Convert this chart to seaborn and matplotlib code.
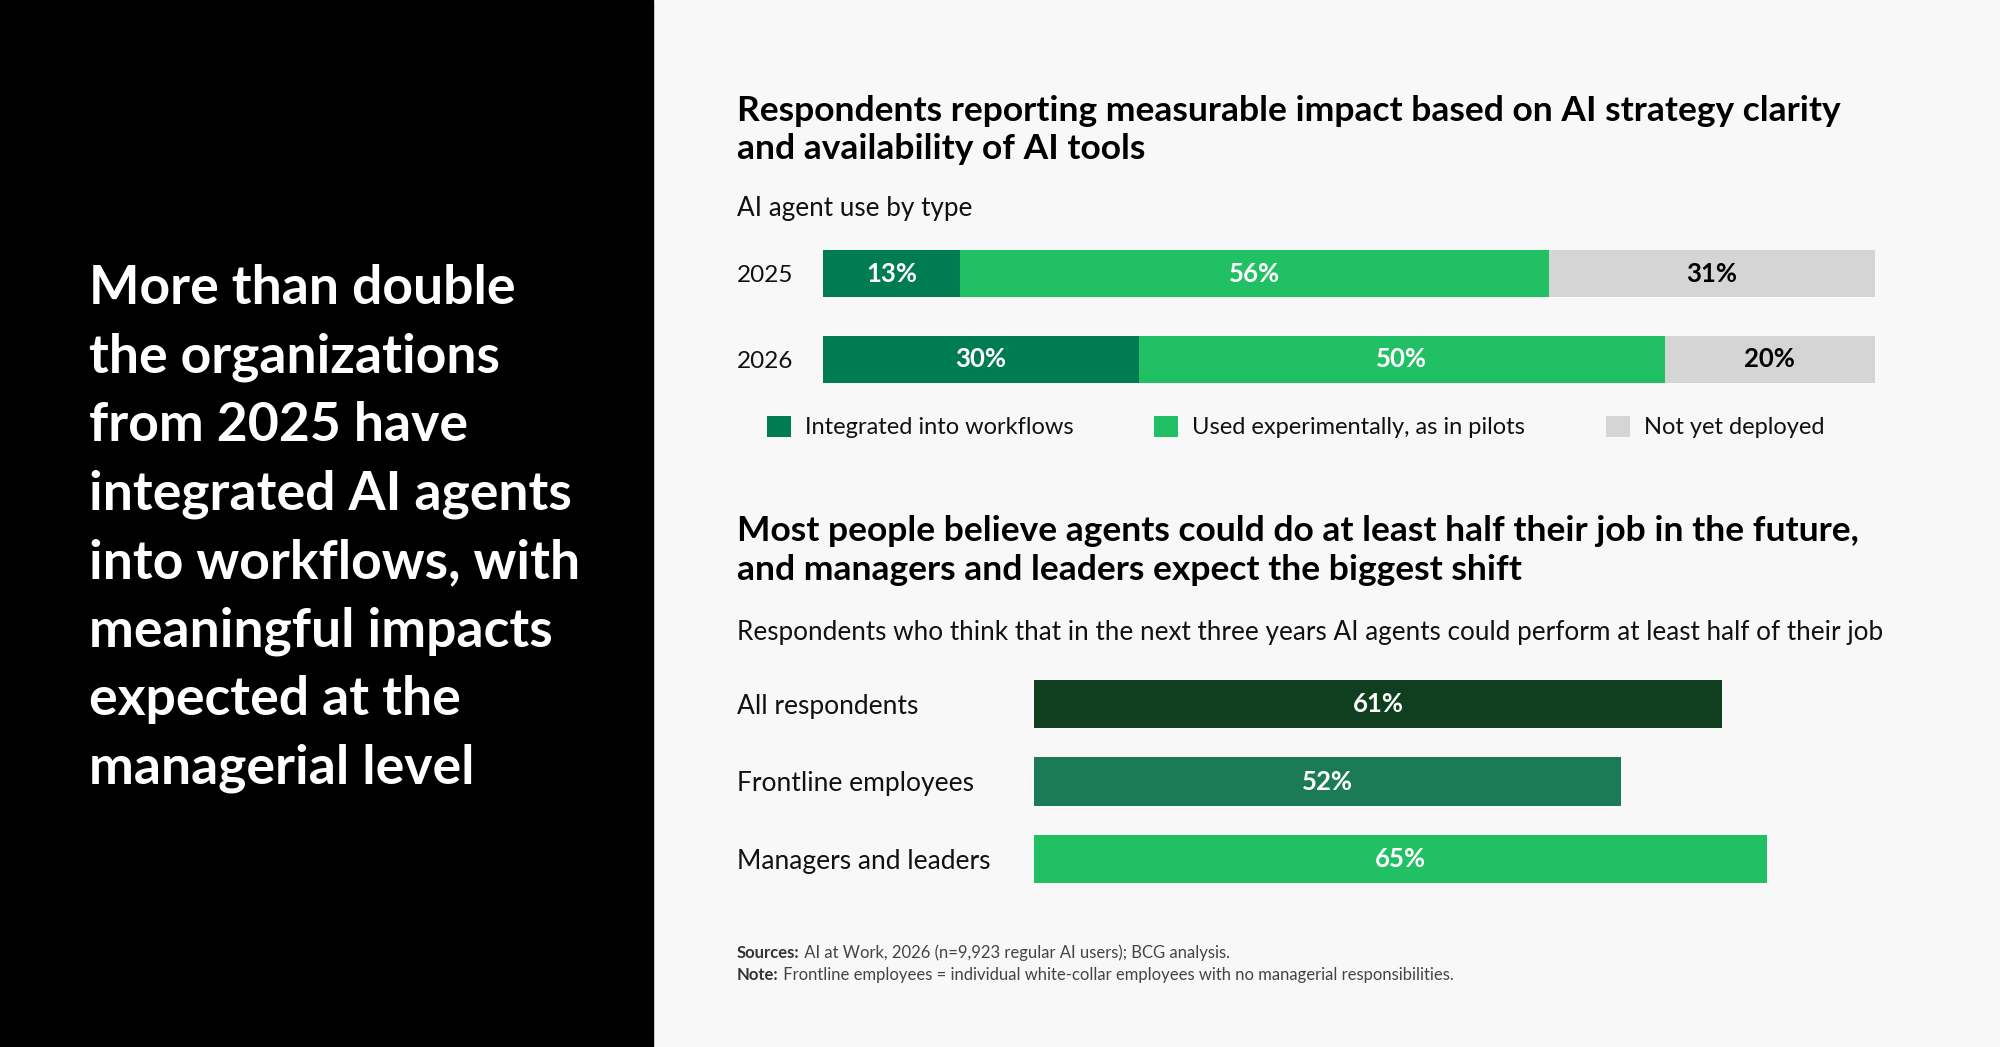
import matplotlib
matplotlib.use('Agg')
import matplotlib.pyplot as plt
from matplotlib.patches import Patch, Rectangle
import pandas as pd
import seaborn as sns

# data
years = ['2025', '2026']
integrated = [13, 30]
experimental = [56, 50]
not_deployed = [31, 20]
use_types = ['Integrated into workflows', 'Used experimentally, as in pilots',
             'Not yet deployed']

groups = ['All respondents', 'Frontline employees', 'Managers and leaders']
shares = [61, 52, 65]

headline = ['More than double', 'the organizations', 'from 2025 have',
            'integrated AI agents', 'into workflows, with',
            'meaningful impacts', 'expected at the', 'managerial level']

DARK = '#007c52'
LIGHT = '#22c064'
GRAY = '#d5d5d5'
group_colors = ['#0f3f1e', '#1b7b57', '#22c064']
BG = '#f8f8f8'

sns.set_theme(style='white')
plt.rcParams['font.family'] = ['Lato', 'DejaVu Sans']

W, H = 2000, 1047
fig = plt.figure(figsize=(20, 10.47), dpi=100, facecolor=BG)


def fx(px):
    return px / W


def fy(px):
    return 1 - px / H


# black panel + headline
fig.add_artist(Rectangle((0, 0), fx(653), 1, transform=fig.transFigure,
                         color='black', zorder=0))
for i, line in enumerate(headline):
    fig.text(fx(89), fy(304 + i * 68.5), line, color='white', fontsize=38.5,
             fontweight='bold', va='baseline', ha='left')

# titles
TITLE = 25.5
SUB = 18.8
fig.text(fx(737), fy(121), 'Respondents reporting measurable impact based on AI strategy clarity',
         fontsize=TITLE, fontweight='bold', va='baseline', color='black')
fig.text(fx(737), fy(159), 'and availability of AI tools',
         fontsize=TITLE, fontweight='bold', va='baseline', color='black')
fig.text(fx(737), fy(216), 'AI agent use by type', fontsize=SUB,
         va='baseline', color='#111111')

fig.text(fx(737), fy(541), 'Most people believe agents could do at least half their job in the future,',
         fontsize=TITLE, fontweight='bold', va='baseline', color='black')
fig.text(fx(737), fy(580), 'and managers and leaders expect the biggest shift',
         fontsize=TITLE, fontweight='bold', va='baseline', color='black')
fig.text(fx(737), fy(640),
         'Respondents who think that in the next three years AI agents could perform at least half of their job',
         fontsize=SUB, va='baseline', color='#111111')

# stacked bars (drawn as cumulative overlays)
df = pd.DataFrame({'year': years, 'integrated': integrated,
                   'experimental': experimental, 'not_deployed': not_deployed})
df['c1'] = df['integrated']
df['c2'] = df['c1'] + df['experimental']
df['c3'] = df['c2'] + df['not_deployed']

ax1 = fig.add_axes([fx(823), fy(383), fx(1875) - fx(823), fy(250) - fy(383)])
ax1.set_facecolor(BG)
for col, c in [('c3', GRAY), ('c2', LIGHT), ('c1', DARK)]:
    sns.barplot(data=df, x=col, y='year', orient='h', color=c, width=0.55,
                saturation=1, linewidth=0, ax=ax1)
ax1.set_xlim(0, 100)
ax1.set_ylim(1.275, -0.275)
for i, row in df.iterrows():
    starts = [0, row['c1'], row['c2']]
    vals = [row['integrated'], row['experimental'], row['not_deployed']]
    colors = ['white', 'white', 'black']
    for s, v, tc in zip(starts, vals, colors):
        ax1.text(s + v / 2, i, f'{v}%', ha='center', va='center',
                 fontsize=18.5, fontweight='bold', color=tc)
ax1.set_xticks([])
ax1.set_xlabel('')
ax1.set_ylabel('')
ax1.tick_params(axis='y', length=0, pad=62, labelsize=17.5, labelcolor='#111111')
for lbl in ax1.get_yticklabels():
    lbl.set_ha('left')
sns.despine(ax=ax1, left=True, bottom=True)

handles = [Patch(facecolor=c, edgecolor='none', label=l)
           for c, l in zip([DARK, LIGHT, GRAY], use_types)]
fig.legend(handles=handles, loc='center left', bbox_to_anchor=(fx(767), fy(427)),
           ncol=3, frameon=False, fontsize=17, handlelength=1.03,
           handleheight=1.03, handletextpad=0.59, columnspacing=3.4,
           borderpad=0, borderaxespad=0, labelcolor='#111111')

# group bars
gdf = pd.DataFrame({'group': groups, 'share': shares})
ax2 = fig.add_axes([fx(1034), fy(883), fx(1888) - fx(1034), fy(680) - fy(883)])
ax2.set_facecolor(BG)
sns.barplot(data=gdf, x='share', y='group', hue='group', palette=group_colors,
            orient='h', width=0.625, saturation=1, linewidth=0, legend=False,
            ax=ax2)
ax2.set_xlim(0, 75.7)
ax2.set_ylim(2.3125, -0.3125)
for cont in ax2.containers:
    ax2.bar_label(cont, labels=[f'{v:.0f}%' for v in cont.datavalues],
                  label_type='center', color='white', fontsize=18.5,
                  fontweight='bold')
ax2.set_xticks([])
ax2.set_xlabel('')
ax2.set_ylabel('')
ax2.tick_params(axis='y', length=0, pad=214, labelsize=19, labelcolor='#111111')
for lbl in ax2.get_yticklabels():
    lbl.set_ha('left')
sns.despine(ax=ax2, left=True, bottom=True)

# footnotes
renderer = fig.canvas.get_renderer()
for yy, head, rest in [(958, 'Sources:', ' AI at Work, 2026 (n=9,923 regular AI users); BCG analysis.'),
                       (980, 'Note:', ' Frontline employees = individual white-collar employees with no managerial responsibilities.')]:
    t = fig.text(fx(737), fy(yy), head, fontsize=12, fontweight='bold',
                 va='baseline', color='#333333')
    bb = t.get_window_extent(renderer=renderer)
    fig.text(bb.x1 / W, fy(yy), rest, fontsize=12, va='baseline',
             color='#444444')

fig.savefig('out.png', dpi=100, facecolor=BG)
